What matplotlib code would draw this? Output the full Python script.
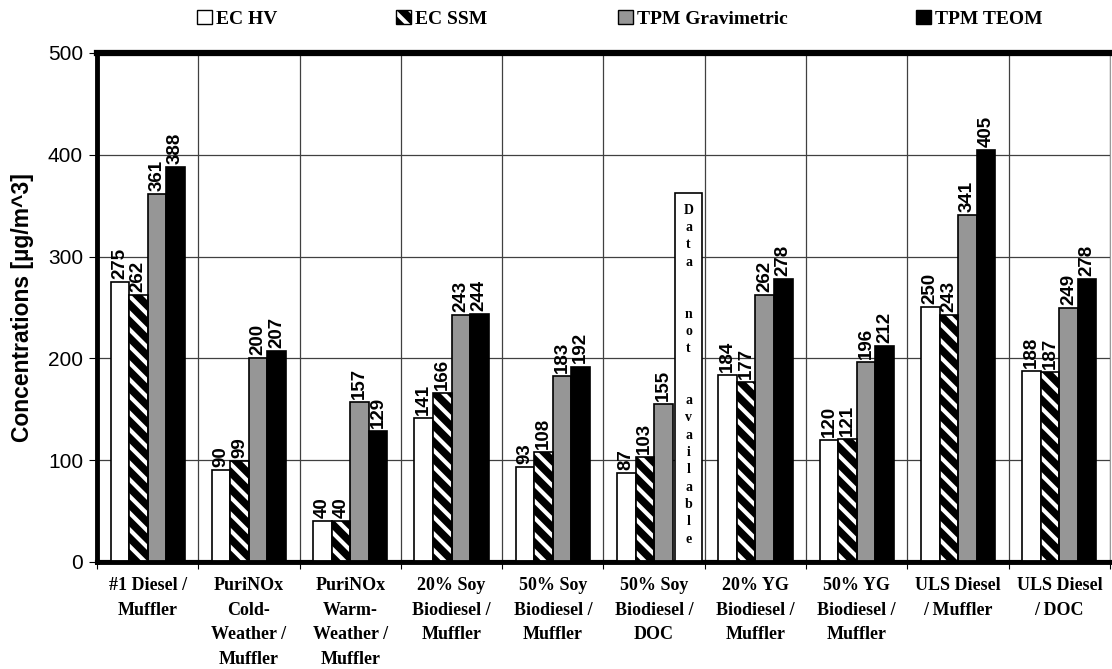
import matplotlib
matplotlib.use("Agg")
from matplotlib import pyplot as plt
from matplotlib.patches import Patch
import numpy as np

categories = ["#1 Diesel /\nMuffler", "PuriNOx\nCold-\nWeather /\nMuffler",
              "PuriNOx\nWarm-\nWeather /\nMuffler", "20% Soy\nBiodiesel /\nMuffler",
              "50% Soy\nBiodiesel /\nMuffler", "50% Soy\nBiodiesel /\nDOC",
              "20% YG\nBiodiesel /\nMuffler", "50% YG\nBiodiesel /\nMuffler",
              "ULS Diesel\n/ Muffler", "ULS Diesel\n/ DOC"]
ec_hv = [275, 90, 40, 141, 93, 87, 184, 120, 250, 188]
ec_ssm = [262, 99, 40, 166, 108, 103, 177, 121, 243, 187]
tpm_grav = [361, 200, 157, 243, 183, 155, 262, 196, 341, 249]
tpm_teom = [388, 207, 129, 244, 192, None, 278, 212, 405, 278]
na_index = 5
na_height = 362
yticks = [0, 100, 200, 300, 400, 500]

plt.rcParams['hatch.linewidth'] = 3.0
serif = ['Liberation Serif', 'DejaVu Serif']
sans = ['Liberation Sans', 'DejaVu Sans']

fig = plt.figure(figsize=(11.12, 6.69), dpi=100)
ax = fig.add_axes([0.0872, 0.16, 0.911, 0.7608])

x = np.arange(len(categories)) + 0.5
w = 0.183
gray = '#969696'

def labels(xs, vals):
    for xi, v in zip(xs, vals):
        if v is None:
            continue
        ax.text(xi, v + 3, str(v), rotation=90, ha='center', va='bottom',
                fontsize=13.5, fontweight='bold', family=sans)

ax.bar(x - 1.5 * w, ec_hv, w, color='white', edgecolor='black', lw=1.2, zorder=3)
# hatched bars: white stripes on black, then a black outline on top
ax.bar(x - 0.5 * w, ec_ssm, w, color='black', edgecolor='white', hatch='\\\\', lw=0, zorder=3)
ax.bar(x - 0.5 * w, ec_ssm, w, fill=False, edgecolor='black', lw=1.2, zorder=4)
ax.bar(x + 0.5 * w, tpm_grav, w, color=gray, edgecolor='black', lw=1.2, zorder=3)
teom = [0 if v is None else v for v in tpm_teom]
ax.bar(x + 1.5 * w, teom, w, color='black', edgecolor='black', lw=1.2, zorder=3)

labels(x - 1.5 * w, ec_hv)
labels(x - 0.5 * w, ec_ssm)
labels(x + 0.5 * w, tpm_grav)
labels(x + 1.5 * w, tpm_teom)

# "Data not available" box
na_x = x[na_index] + 1.5 * w + 0.065
ax.bar(na_x, na_height, 0.266, color='white', edgecolor='black', lw=1.2, zorder=3)
ax.text(na_x, na_height / 2 + 3, "\n".join("Data  not  available"),
        ha='center', va='center', fontsize=10, fontweight='bold',
        family=serif, linespacing=1.43, zorder=5)

ax.set_xlim(0, 10)
ax.set_ylim(0, 500)
ax.set_yticks(yticks)
ax.set_xticks(np.arange(0, 11))
ax.set_xticklabels([])
ax.set_xticks(x, minor=True)
ax.set_xticklabels(categories, minor=True, fontsize=13, fontweight='bold',
                   family=serif, linespacing=1.58, va='top')
ax.tick_params(axis='x', which='minor', length=0, pad=11)
ax.tick_params(axis='x', which='major', length=5, direction='out')
ax.tick_params(axis='y', length=6, direction='out', labelsize=15, pad=4)
for t in ax.get_yticklabels():
    t.set_family(sans)

ax.grid(True, which='major', color='#404040', lw=0.9, zorder=0)
ax.set_axisbelow(True)
ax.axhline(0, color='black', lw=3.5, zorder=6, clip_on=False)

ax.spines['top'].set_linewidth(4.5)
ax.spines['left'].set_linewidth(3.5)
ax.spines['right'].set_linewidth(0.8)
ax.spines['right'].set_color('#999999')
ax.spines['bottom'].set_linewidth(3)

ax.set_ylabel("Concentrations [µg/m^3]", fontsize=16.5, fontweight='bold',
              family=sans, labelpad=10)

# legend entries placed across the top
entries = [
    ("EC HV", dict(facecolor='white', edgecolor='black'), 197),
    ("EC SSM", dict(facecolor='black', edgecolor='white', hatch='\\\\'), 396),
    ("TPM Gravimetric", dict(facecolor=gray, edgecolor='black'), 618),
    ("TPM TEOM", dict(facecolor='black', edgecolor='black'), 916),
]
for name, style, px in entries:
    h = Patch(linewidth=1, **style)
    if 'hatch' in style:
        h = (Patch(**style, linewidth=0), Patch(fill=False, edgecolor='black', linewidth=1))
    fig.legend(handles=[h], labels=[name], loc='center left',
               bbox_to_anchor=(px / 1112, 1 - 19 / 669), frameon=False,
               handlelength=0.75, handleheight=0.75, handletextpad=0.25,
               borderpad=0, borderaxespad=0,
               prop=dict(family=serif, weight='bold', size=14))

fig.savefig("out.png", dpi=100)
